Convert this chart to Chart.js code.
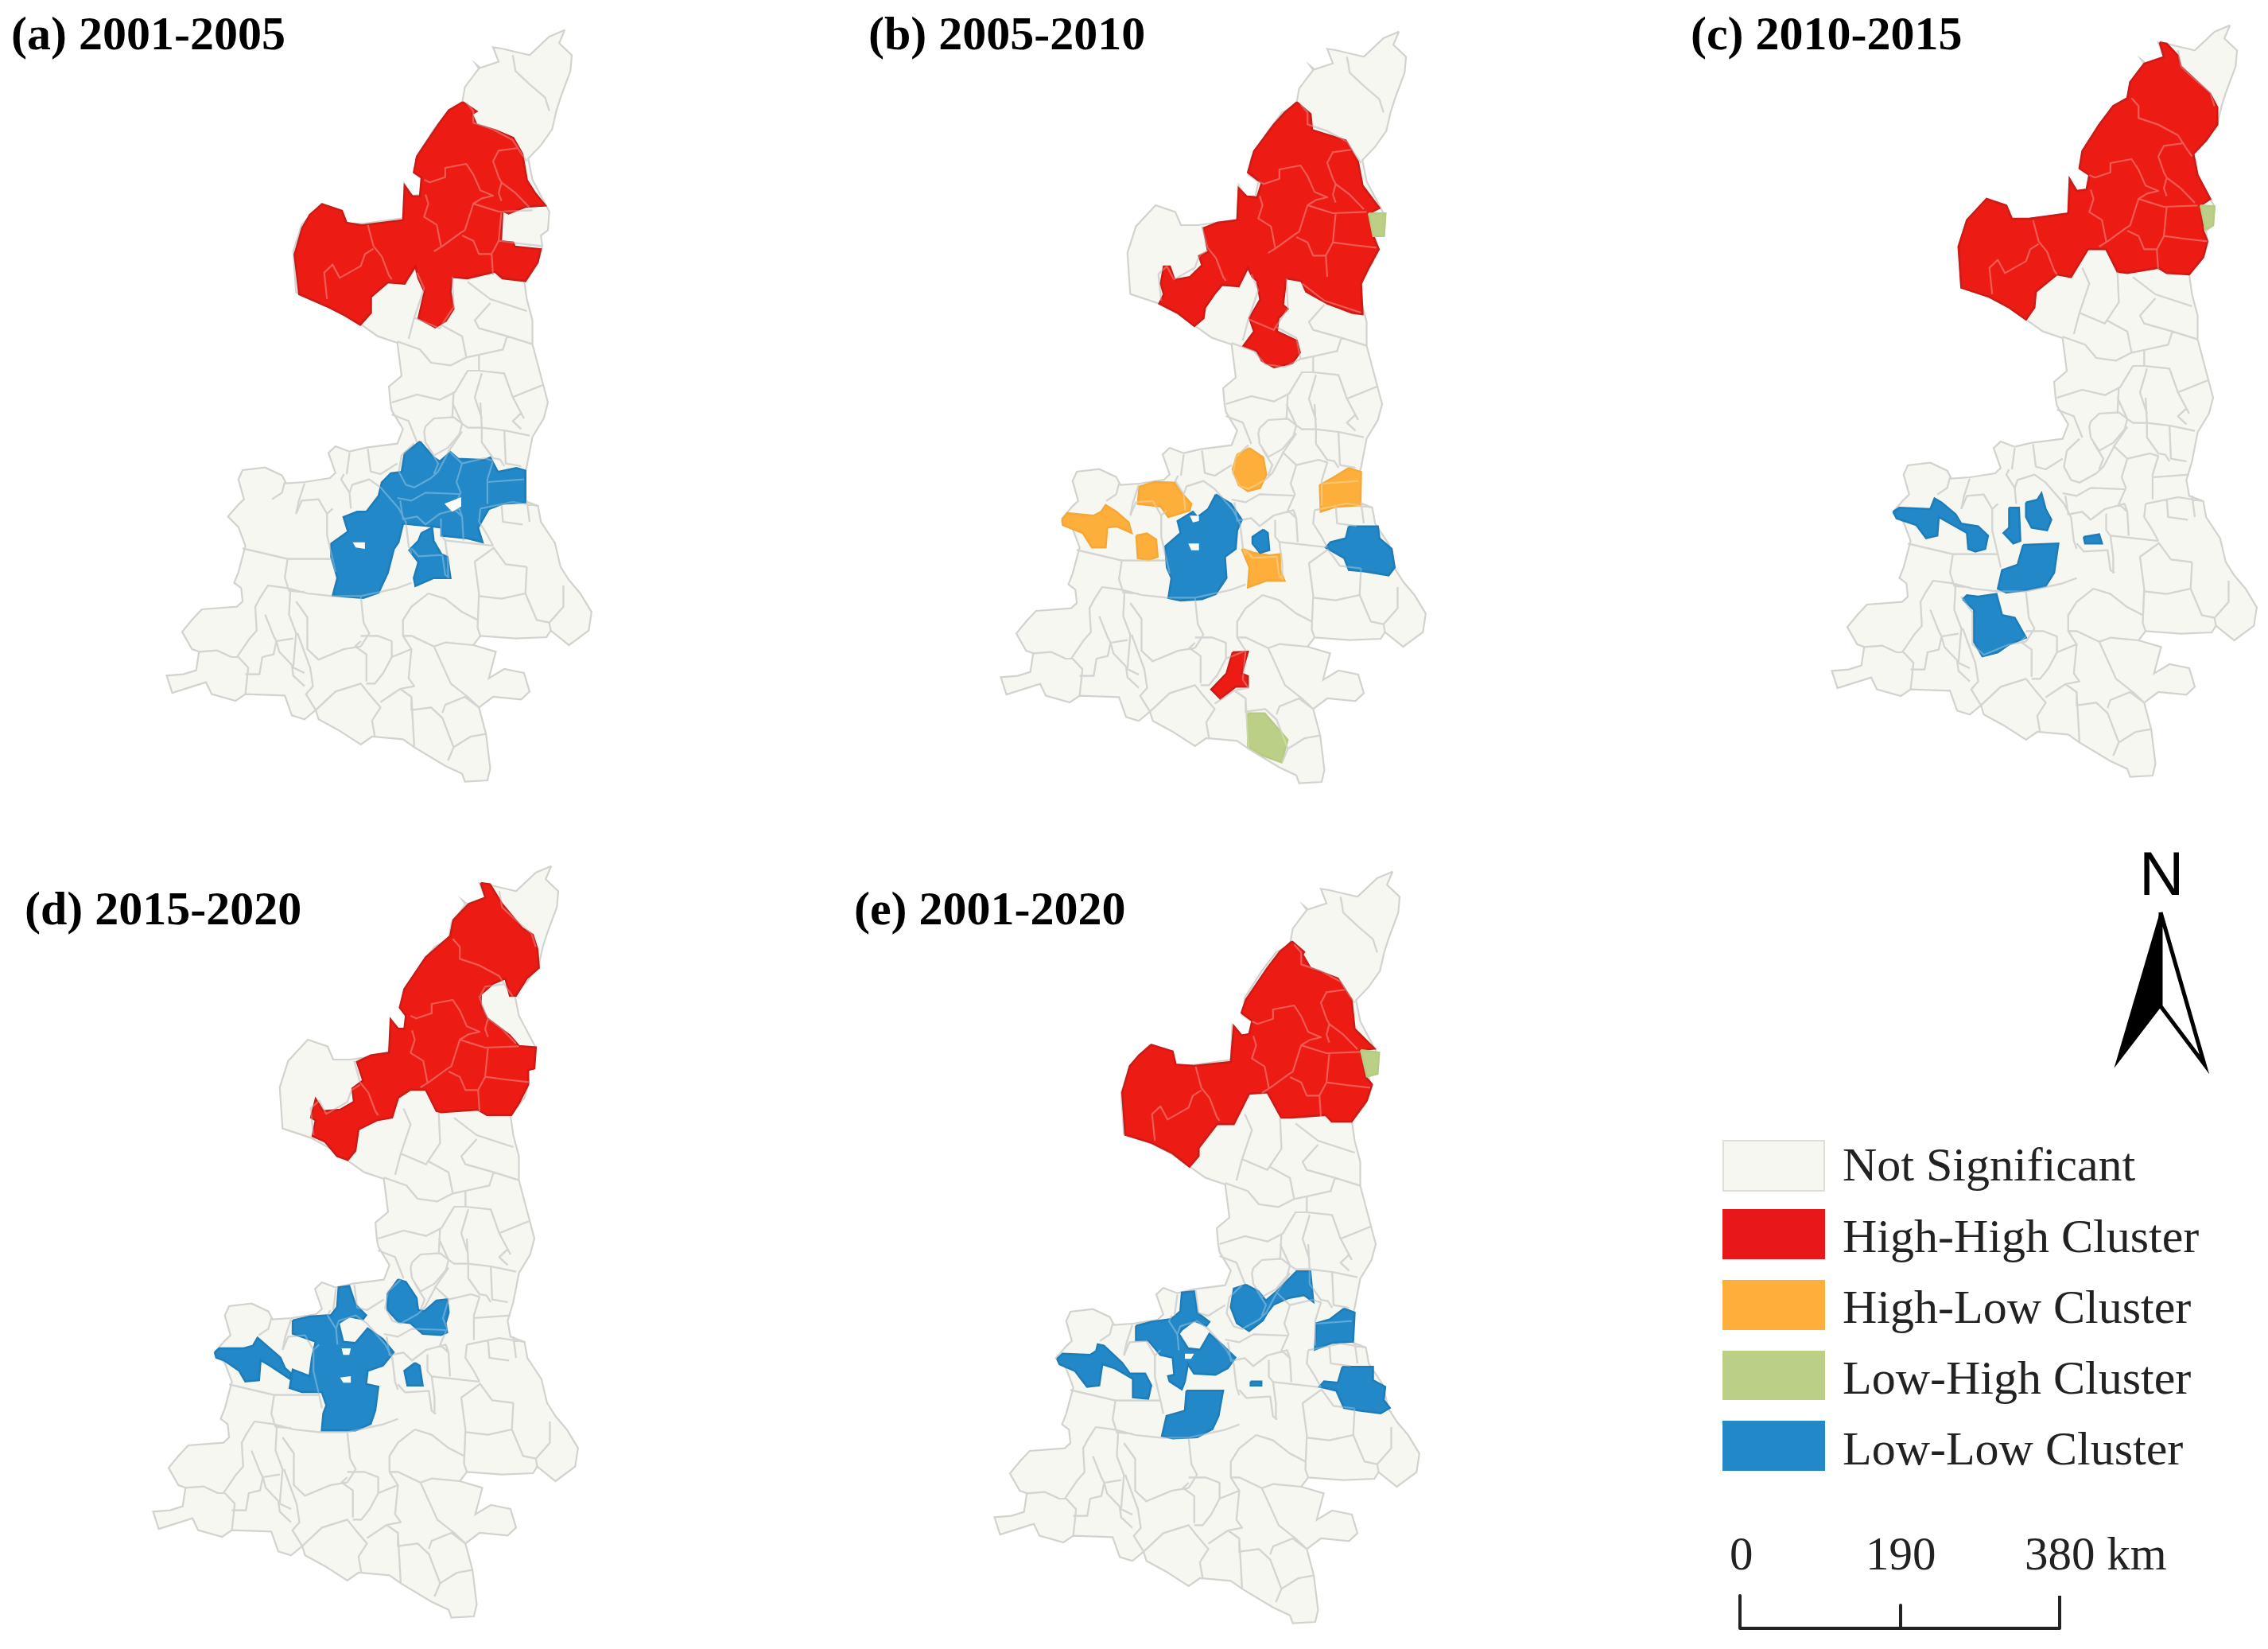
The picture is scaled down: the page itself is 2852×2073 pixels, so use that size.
<!DOCTYPE html>
<html><head><meta charset="utf-8">
<style>
html,body{margin:0;padding:0;background:#fff;width:2852px;height:2073px;overflow:hidden}
#wrap{position:relative;width:2852px;height:2073px;filter:blur(0.7px)}
canvas{position:absolute;left:0;top:0}
.t{position:absolute;line-height:1;white-space:nowrap;color:#111;font-family:"Liberation Serif",serif}
.sw{position:absolute;box-sizing:border-box}
</style>
<script src="https://cdn.jsdelivr.net/npm/chart.js@4"></script>
</head><body><div id="wrap"><canvas id="c" width="2852" height="2073"></canvas></div>
<script>
// ---------- texts ----------
const panelTitles=["(a) 2001-2005","(b) 2005-2010","(c) 2010-2015","(d) 2015-2020","(e) 2001-2020"];
const legendLabels=["Not Significant","High-High Cluster","High-Low Cluster","Low-High Cluster","Low-Low Cluster"];
const scaleLabels=["0","190","380 km"];
const northLabel="N";
// ---------- shared map geometry ----------
const outlineNorth=[1425,35,1405,85,1450,130,1445,190,1410,290,1395,340,1380,410,1340,470,1295,520,1310,600,1355,690,1370,720,1365,790,1340,810,1345,850,1330,910,1280,975,1290,1050,1310,1130,1310,1220,1350,1380,1365,1440];
const outlineSouth=[1365,0,1350,60,1310,130,1290,240,1270,310,1280,370,1330,390,1340,450,1390,530,1410,620,1440,670,1480,720,1520,790,1510,860,1440,915,1375,860,1360,885,1250,890,1125,880,1100,915,1180,940,1155,1040,1210,1005,1280,1020,1300,1090,1270,1120,1170,1110,1120,1150,1145,1250,1160,1380,1150,1425,1070,1430,1060,1400,1000,1370,890,1300,850,1270,740,1260,700,1290,620,1235,550,1195,540,1160,500,1195,455,1180,430,1105,290,1100,255,1125,170,1100,150,1055,30,1095,10,1030,70,1025,115,1010,125,940,100,930,65,865,100,820,135,780,260,770,280,750,275,700,250,680,265,640,290,540,265,470,228,430,265,385,285,365,265,290,280,255,360,245,420,275,435,305,500,300,590,285,610,265,585,190,610,165,660,185,720,170,830,155,850,100,810,30,805,0];
const outlineWest=[800,1380,845,1340,830,1215,760,1190,700,1145,640,1100,570,1060,470,1025,460,870,490,770,560,690,630,715,650,765,710,765,850,745,855,615,880,660,915,655,925,600,890,575,900,510,960,410,1010,340,1060,310,1070,250,1120,180,1110,165,1125,178,1190,155,1170,100,1200,105,1260,120,1300,130,1370,60];
const linesNorth=[
[1075,310,1100,340,1100,385,1170,410,1240,450,1270,500,1290,530],
[1240,130,1250,190,1300,240,1355,290,1370,340],
[1260,480,1190,490,1170,530,1190,590,1200,610,1190,650,1200,680],
[1200,610,1250,650,1300,705],
[1310,715,1190,720,1130,700,1100,690,1070,790,1055,800,990,850,960,870],
[925,600,945,610,1000,590,1000,555,1075,540,1100,580,1125,640,1170,660,1130,670,1100,690],
[930,655,940,690,925,740,970,770,985,850],
[1060,810,1100,830,1120,880,1165,880,1190,830,1200,720],
[1165,880,1170,960],
[1190,830,1260,840,1345,850],
[725,770,745,850,775,890,800,960,810,975],
[745,860,715,880,700,925,625,970,600,920,570,950,580,1050],
[900,950,925,1010,890,1120,980,1160,1030,1080,1025,965],
[1080,985,1160,1050,1290,1095],
[1160,1065,1105,1130,1120,1160,1220,1190,1310,1220],
[1220,1190,1205,1240,1120,1260,1075,1270,1020,1300,950,1290,910,1240,830,1210],
[890,1120,870,1200],
[990,1150,1060,1190,1075,1270],
[1120,1260,1120,1320,1080,1320,1035,1400,980,1430,900,1410,810,1440],
[1120,1320,1210,1330,1240,1420,1345,1375],
[1130,1330,1105,1420,1130,1500],
[1240,1420,1280,1500],
[1030,1400,1025,1500]
];
const linesSouth=[
[810,45,870,70,900,150],
[930,90,960,60,1030,55,1060,80,1050,120,1010,170,960,200,930,150,925,110,930,90],
[1025,0,1060,80,1080,95,1130,95,1210,105,1300,125],
[1125,0,1130,95,1130,150,1170,210,1195,215,1210,240],
[1250,0,1270,40,1240,70,1270,100],
[1210,105,1215,230,1270,240],
[890,155,845,200,835,260,860,310,890,320,950,285,975,260,1015,180,1060,110],
[940,170,975,230,960,270],
[1010,180,1060,230,1040,300,1055,340,1030,400,1060,430],
[1060,230,1140,210,1170,220,1150,290,1150,380],
[1150,300,1280,290],
[1125,400,1240,375,1330,390],
[1125,400,1120,450,1150,500,1170,540],
[1200,380,1205,450,1275,460],
[1290,370,1300,450],
[830,360,880,370,930,340,1050,345],
[840,370,850,440,900,430,930,460,980,420,1050,400,1060,430],
[860,450,870,540,880,570],
[985,440,985,500,1000,520,1170,540],
[1060,430,1065,520],
[880,550,905,580,990,575,1000,650,1015,660],
[1000,520,1010,600,1010,660],
[1170,550,1105,600,1120,720,1115,850,1125,880],
[1170,545,1215,610,1290,620],
[1290,620,1285,720,1325,820,1370,830],
[1120,730,1200,740,1285,720],
[1370,830,1420,770,1420,690],
[1370,830,1375,860],
[640,270,630,290,660,340,670,310,730,290,770,320,835,400,860,450],
[660,190,650,270],
[725,175,735,260,770,270,830,230],
[500,305,480,370,470,420],
[470,420,490,370,550,365,580,420,580,500,600,590],
[440,590,600,590,610,640],
[660,340,665,400],
[600,400,580,420],
[440,590,430,660,445,710,500,715],
[280,550,440,590],
[430,300,420,340,385,365],
[880,680,830,700,700,730,600,730,510,720,440,700,370,690,340,740,325,770,330,860,305,890,260,960],
[940,720,1000,740,1060,790,1115,820],
[940,720,880,770,850,820,850,880,880,880,960,920],
[960,920,1000,905,1100,915],
[960,920,1020,1060,1080,1110,1120,1150],
[700,730,710,830,730,870,700,920],
[700,880,760,880,810,900,810,960,780,1020,750,1060,720,1060],
[700,900,680,920,720,950,720,1050],
[450,700,445,800,470,870,460,1000,500,1020],
[360,800,390,880,400,900,390,950,350,960,340,1025,290,1025],
[265,960,300,1000,290,1100],
[125,940,190,935,240,960,265,960],
[460,890,400,900,410,940,455,990,460,1030,500,1070],
[510,830,510,930,550,970,640,930,700,920],
[475,870,520,1000,530,1070,505,1100,540,1160],
[470,750,510,810,510,830],
[540,1160,610,1090,700,1060,730,1100,770,1150,740,1200,750,1260],
[770,1130,840,1080,880,1110,890,1300],
[810,960,880,930,870,1040,890,1070,840,1080],
[850,880,880,930],
[880,1110,880,1160,950,1150,990,1190,1030,1300,1010,1350],
[990,1170,1000,1140,1070,1110,1120,1150],
[1030,1300,1090,1260,1145,1250]
];
// ---------- clusters per panel ----------
const aHighHigh=[1045,325,1090,360,1075,370,1090,410,1150,430,1210,460,1240,520,1255,620,1280,665,1315,715,1250,720,1195,745,1175,735,1170,850,1210,855,1215,870,1300,880,1290,930,1250,1000,1175,990,1150,965,1060,990,1010,985,1005,1040,1015,1105,990,1150,955,1175,900,1140,920,1040,900,990,890,945,860,1000,855,1010,800,1005,745,1060,745,1120,710,1165,660,1130,600,1095,510,1050,495,900,520,800,545,750,585,710,650,735,665,780,715,790,850,770,855,640,880,680,905,680,910,610,885,590,895,530,965,410,1000,355];
const aLowLowMain=[905,165,950,225,970,240,1005,205,1030,230,1115,235,1135,225,1160,280,1220,265,1250,275,1250,395,1175,400,1130,420,1095,490,1110,545,1060,530,975,520,975,490,945,485,850,475,835,545,820,570,800,660,770,735,720,755,660,750,620,745,635,680,615,600,615,550,670,505,655,450,700,430,730,430,770,370,780,320,810,285,845,280,855,210];
const aLowLowSouth=[910,510,945,490,950,540,975,590,995,600,1005,680,950,680,890,710,885,680,900,620,870,575,900,540];
const aHole1=[985,400,1040,375,1040,410,1010,430];
const aHole2=[685,545,725,545,725,570,695,565];
const bHighHigh=[990,325,1035,370,1040,430,1150,470,1190,550,1205,640,1260,725,1225,745,1240,830,1258,880,1225,950,1200,1010,1205,1125,1170,1120,1090,1085,1020,1040,1005,1000,955,990,945,1090,960,1105,930,1140,925,1190,990,1225,1000,1270,975,1310,915,1325,875,1300,860,1265,815,1245,850,1190,835,1140,870,1070,860,1000,845,985,830,950,800,1020,745,1015,720,1050,690,1100,685,1140,655,1170,600,1120,540,1085,555,1050,545,1010,555,945,575,945,590,995,640,985,680,940,670,905,700,890,685,800,730,780,795,770,800,650,825,680,860,685,875,630,830,590,850,510,915,410,950,365];
const bLowHighNorth=[1225,745,1280,745,1275,830,1240,830];
const bOrange1=[835,190,880,225,890,290,870,340,830,352,800,330,780,270,795,215];
const bOrange2=[1160,265,1200,280,1198,405,1115,412,1068,430,1065,330,1110,300];
const bOrange3=[475,335,525,318,590,320,610,355,645,400,640,425,570,450,545,410,470,400];
const bOrange4=[222,460,240,435,325,445,350,430,365,405,400,430,440,470,450,510,400,485,370,490,365,565,320,565,290,510,225,480];
const bOrange5=[465,520,500,512,530,535,535,600,505,612,470,605];
const bOrange6=[810,570,850,585,900,595,935,590,935,650,950,690,890,690,830,715,835,640];
const bLowLowMain=[725,365,775,400,810,460,795,500,790,570,755,600,760,680,725,740,680,760,610,765,570,755,580,680,565,640,560,560,610,510,600,465,650,430,665,450,700,420];
const bHole1=[640,445,670,445,670,465,650,470];
const bHole2=[635,550,670,550,670,575,645,575];
const bLowLowSmall=[880,497,895,510,900,575,870,585,845,550,845,525];
const bLowLowEast=[1160,485,1255,485,1260,530,1300,570,1310,640,1290,670,1210,655,1160,650,1145,605,1085,565,1100,545,1150,530];
const bHighHighSouth=[780,960,830,958,810,1040,830,1050,830,1090,790,1090,740,1135,710,1100,760,1040];
const bLowHighSouth=[830,1190,885,1190,960,1290,940,1375,880,1350,830,1315];
const cHighHigh=[1175,100,1200,105,1240,150,1250,190,1300,240,1355,295,1380,345,1380,410,1340,470,1295,520,1310,600,1355,690,1320,715,1330,810,1345,850,1330,910,1280,975,1200,970,1170,950,1060,970,1025,965,985,880,920,880,860,985,810,975,735,1040,730,1100,700,1145,640,1100,570,1060,470,1025,460,870,490,770,560,690,630,715,650,765,710,765,850,745,855,615,880,660,915,655,925,600,890,575,900,510,960,410,1010,340,1060,310,1070,250,1120,180,1190,155];
const cLowHigh=[1320,715,1370,718,1365,790,1338,805];
const cLowWest=[228,430,250,415,360,420,375,380,400,395,450,440,470,475,530,485,565,520,555,570,520,580,495,570,490,510,440,480,390,450,385,520,345,530,310,480,240,455];
const cLowMid1=[640,415,675,415,680,540,655,550,620,510,640,490];
const cLowMid2=[700,395,740,385,755,360,770,420,790,460,775,500,720,490,700,450];
const cLowBig=[690,555,815,550,800,660,770,710,700,725,630,735,600,720,615,650,670,630];
const cLowSouth=[475,760,490,745,530,750,595,740,615,820,660,830,700,905,640,930,600,960,545,975,515,920,515,800];
const cLowSmall=[905,525,960,515,970,550,910,550];
const dHighHigh=[1130,90,1160,95,1200,170,1265,260,1300,285,1315,340,1320,410,1280,450,1245,515,1225,515,1210,450,1170,470,1130,510,1130,550,1150,600,1225,665,1255,705,1310,710,1305,790,1285,795,1285,850,1255,920,1230,965,1150,965,1120,945,1000,955,985,950,950,870,900,870,860,900,840,975,790,985,730,1020,720,1100,695,1135,660,1120,620,1065,580,1045,590,985,575,975,590,905,615,950,670,945,715,915,710,865,745,835,725,765,770,740,830,730,835,605,860,640,880,640,885,590,865,560,880,490,950,370,1000,320,1030,290,1040,230,1090,170,1145,145];
const dLowWest=[260,420,275,405,355,405,385,395,400,365,430,395,475,440,490,480,510,500,505,520,440,470,410,450,405,525,360,530,340,490,290,450,265,440];
const dLowMain=[515,300,570,285,640,280,660,250,665,175,700,170,720,240,755,280,745,295,700,285,665,310,680,380,720,385,760,330,810,370,845,420,810,470,760,490,755,540,795,550,785,640,770,690,720,715,610,715,615,650,625,620,610,570,545,570,505,555,515,485,570,510,578,440,590,380,515,350];
const dHole1=[675,405,705,405,700,430,680,430];
const dHole2=[670,515,705,510,705,535,680,535];
const dLowEast=[860,145,885,155,920,215,925,260,945,265,985,225,1020,220,1025,270,1015,310,1020,345,1000,355,940,350,900,310,860,305,825,260,825,200];
const dLowSmall=[915,460,930,470,940,545,890,545,880,490];
const eHighHigh=[1000,310,1040,350,1035,360,1060,410,1150,450,1195,530,1205,640,1270,715,1225,720,1240,820,1262,850,1245,910,1195,990,1130,990,1110,965,1000,975,965,975,920,880,860,885,810,1000,755,1000,695,1090,695,1120,665,1160,610,1110,540,1070,455,1040,445,880,470,780,500,740,540,700,610,725,620,775,680,780,800,765,810,630,835,665,860,660,870,610,835,580,850,530,920,410,960,350];
const eLowHigh=[1225,720,1285,730,1280,810,1245,820];
const eLowWest=[232,445,250,425,340,430,360,415,365,390,385,395,445,460,470,500,520,500,540,545,530,595,480,590,480,520,420,480,380,465,370,545,330,550,290,490,240,465];
const eLowMain=[490,320,540,305,605,295,635,265,640,195,680,190,690,270,730,305,720,320,680,300,640,335,630,350,660,405,700,410,730,350,770,390,815,440,790,480,750,505,680,500,660,465,650,530,640,560,600,530,595,510,615,505,610,440,570,430,530,375,490,375];
const eHole1=[650,425,680,425,670,445,650,445];
const eLowNorth=[850,165,890,190,915,225,950,190,1015,115,1060,115,1070,230,1040,205,990,215,940,240,920,270,905,300,860,340,820,310,800,250,810,180];
const eLowBig=[655,565,775,565,760,660,740,710,690,740,610,745,575,735,590,660,650,640];
const eLowBlock=[1170,255,1205,270,1200,380,1130,385,1075,410,1080,310,1125,295];
const eLowEast=[1165,475,1265,475,1265,525,1305,550,1300,600,1320,630,1290,650,1220,640,1170,630,1145,565,1090,550,1105,530,1150,535];
const eLowSmall=[865,530,900,530,900,545,865,545];
// ---------- map furniture ----------
const arrowLeft=[2717,1147,2717,1265,2661,1338];
const arrowRight=[2717,1147,2772,1338,2717,1265];
const scaleBar=[2188,2006,2188,2047,2390,2047,2390,2018,2390,2047,2590,2047,2590,2006];

// ---------- styles ----------
const COL={none:'#F7F7F2',hh:'#EC1C14',hl:'#FDAE3B',lh:'#BBD086',ll:'#2288C8',hole:'#FBFBF8'};
const EDGE={hh:'#CC1A16',hl:'#F4A838',lh:'#B5CB82',ll:'#1E7CB8'};
const FR={c1:{x:2300,y:20,f:1560/552},c2:{x:2300,y:500,f:1560/552},a1:{x:180,y:20,f:2.6},a2:{x:180,y:500,f:2.6},b1:{x:1250,y:20,f:2.6},b2:{x:1250,y:500,f:2.6},d1:{x:170,y:1080,f:2.6},d2:{x:170,y:1560,f:2.6},e1:{x:1240,y:1080,f:2.6},e2:{x:1240,y:1560,f:2.6}};
const pts=(flat,fr,dx=0,dy=0)=>{const r=[];for(let i=0;i<flat.length;i+=2)r.push({x:fr.x+flat[i]/fr.f+dx,y:fr.y+flat[i+1]/3+dy});return r;};
const raw=flat=>{const r=[];for(let i=0;i<flat.length;i+=2)r.push({x:flat[i],y:flat[i+1]});return r;};
const close=a=>a.concat([a[0]]);
const datasets=[];
const poly=(data,fill,stroke,w)=>datasets.push({data:close(data),_fill:fill,borderColor:stroke||'transparent',borderWidth:w||0,showLine:true,pointRadius:0,tension:0,fill:false,spanGaps:false});
const lineset=(data,stroke,w)=>datasets.push({data,borderColor:stroke,borderWidth:w,showLine:true,pointRadius:0,tension:0,fill:false,spanGaps:false,borderJoinStyle:'round'});

const OFFS={a:[-2094,6],b:[-1045,8],c:[0,0],d:[-2111,1057],e:[-1053,1064]};
const panels={
 a:[[aHighHigh,'a1','hh'],[aLowLowMain,'a2','ll'],[aLowLowSouth,'a2','ll'],[aHole1,'a2','hole'],[aHole2,'a2','hole']],
 b:[[bHighHigh,'b1','hh'],[bLowHighNorth,'b1','lh'],[bOrange1,'b2','hl'],[bOrange2,'b2','hl'],[bOrange3,'b2','hl'],[bOrange4,'b2','hl'],[bOrange5,'b2','hl'],[bOrange6,'b2','hl'],[bLowLowMain,'b2','ll'],[bHole1,'b2','hole'],[bHole2,'b2','hole'],[bLowLowSmall,'b2','ll'],[bLowLowEast,'b2','ll'],[bHighHighSouth,'b2','hh'],[bLowHighSouth,'b2','lh']],
 c:[[cHighHigh,'c1','hh'],[cLowHigh,'c1','lh'],[cLowWest,'c2','ll'],[cLowMid1,'c2','ll'],[cLowMid2,'c2','ll'],[cLowBig,'c2','ll'],[cLowSouth,'c2','ll'],[cLowSmall,'c2','ll']],
 d:[[dHighHigh,'d1','hh'],[dLowWest,'d2','ll'],[dLowMain,'d2','ll'],[dHole1,'d2','hole'],[dHole2,'d2','hole'],[dLowEast,'d2','ll'],[dLowSmall,'d2','ll']],
 e:[[eHighHigh,'e1','hh'],[eLowHigh,'e1','lh'],[eLowWest,'e2','ll'],[eLowMain,'e2','ll'],[eHole1,'e2','hole'],[eLowNorth,'e2','ll'],[eLowBig,'e2','ll'],[eLowBlock,'e2','ll'],[eLowEast,'e2','ll'],[eLowSmall,'e2','ll']]
};
for(const k of Object.keys(panels)){
  const [dx,dy]=OFFS[k];
  const outline=[...pts(outlineNorth,FR.c1,dx,dy),...pts(outlineSouth,FR.c2,dx,dy),...pts(outlineWest,FR.c1,dx,dy)];
  poly(outline,COL.none,'#D2D2CE',2.2);
  const ln=[];
  linesNorth.forEach(l=>{ln.push(...pts(l,FR.c1,dx,dy),{x:null,y:null});});
  linesSouth.forEach(l=>{ln.push(...pts(l,FR.c2,dx,dy),{x:null,y:null});});
  lineset(ln,'#C4C4C2',2.2);
  panels[k].forEach(([flat,fr,cls])=>{
    if(cls==='hole')poly(pts(flat,FR[fr]),COL.hole);
    else poly(pts(flat,FR[fr]),COL[cls],EDGE[cls],2.5);
  });
  lineset(ln,'rgba(255,255,255,0.28)',2.2);
}
poly(raw(arrowRight),'#ffffff','#000000',5);
poly(raw(arrowLeft),'#000000','#000000',2);
lineset(raw(scaleBar),'#222222',4);
datasets.forEach((d,i)=>{d.order=datasets.length-i;});

const polygonFill={id:'polygonFill',beforeDatasetDraw(chart,args){
  const ds=chart.data.datasets[args.index];
  if(!ds._fill)return;
  const c=chart.ctx;c.save();c.beginPath();
  args.meta.data.forEach((p,i)=>{i?c.lineTo(p.x,p.y):c.moveTo(p.x,p.y);});
  c.closePath();c.fillStyle=ds._fill;c.fill();c.restore();
}};
new Chart(document.getElementById('c'),{type:'scatter',data:{datasets},plugins:[polygonFill],options:{
  responsive:false,animation:false,devicePixelRatio:1,events:[],
  layout:{padding:0},
  plugins:{legend:{display:false},tooltip:{enabled:false},title:{display:false}},
  scales:{x:{type:'linear',min:0,max:2852,display:false},y:{type:'linear',min:0,max:2073,reverse:true,display:false}}
}});

// ---------- real text ----------
const wrap=document.getElementById('wrap');
const text=(s,x,base,size,extra='')=>{const d=document.createElement('div');d.className='t';d.textContent=s;d.style.cssText=`left:${x}px;top:${base-0.8375*size}px;font-size:${size}px;${extra}`;wrap.appendChild(d);return d;};
const titlePos=[[14,62],[1092,62],[2126,62],[31,1162],[1074,1162]];
panelTitles.forEach((s,i)=>text(s,titlePos[i][0],titlePos[i][1],60,'font-weight:bold;color:#000'));
const legendCols=[COL.none,'#E8171A',COL.hl,COL.lh,COL.ll];
const rows=[[1433,1498,1484],[1520,1583,1574],[1609,1672,1663],[1698,1760,1752],[1786,1849,1841]];
legendLabels.forEach((s,i)=>{
  const d=document.createElement('div');d.className='sw';
  d.style.cssText=`left:2166px;top:${rows[i][0]}px;width:129px;height:${rows[i][1]-rows[i][0]}px;background:${legendCols[i]};${i==0?'border:2px solid #DEDED8;':''}`;
  wrap.appendChild(d);
  text(s,2317,rows[i][2],60,'color:#222');
});
const scalePos=[2175,2346,2546];
scaleLabels.forEach((s,i)=>text(s,scalePos[i],1973,59,'color:#222'));
const nd=document.createElement('div');nd.className='t';nd.textContent=northLabel;
nd.style.cssText='left:2690px;top:1059px;font-size:78px;font-family:"Liberation Sans",sans-serif;color:#000';
wrap.appendChild(nd);
</script></body></html>
